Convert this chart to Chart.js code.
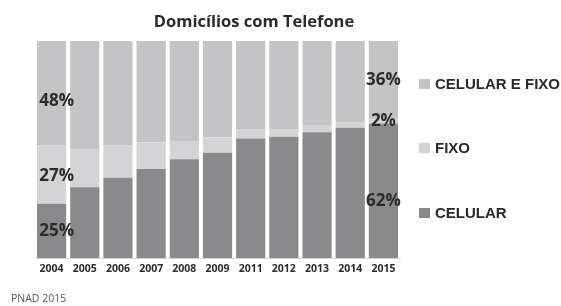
<!DOCTYPE html>
<html>
<head>
<meta charset="utf-8">
<script src="https://cdn.jsdelivr.net/npm/chart.js@4.4.0/dist/chart.umd.min.js"></script>
<style>
  html, body { margin: 0; padding: 0; background: #fff; }
</style>
</head>
<body>
<canvas id="chart" width="561" height="306"></canvas>
<script>
'use strict'

// dados
const anos = ['2004', '2005', '2006', '2007', '2008', '2009', '2011', '2012', '2013', '2014', '2015'];
const celular = [25, 32.6, 37, 41, 45.5, 48.5, 55.1, 55.9, 57.9, 60, 62];
const fixo = [27, 17.5, 15, 12.3, 8.4, 7.1, 4.1, 3.5, 3.4, 2.6, 2];
const celularEFixo = [48, 49.9, 48, 46.7, 46.1, 44.4, 40.8, 40.6, 38.7, 37.4, 36];

const titulo = 'Domicílios com Telefone';
const fonte = 'PNAD 2015';

const corCelular = '#8a8a8c';
const corFixo = '#d4d4d6';
const corAmbos = '#c4c4c6';

const ctx = document.getElementById('chart');

// textos, legenda e rótulos de valor
const extras = {
  id: 'extras',
  afterDatasetsDraw(chart) {
    const c = chart.ctx;
    c.save();

    // título
    c.fillStyle = '#2a2a2a';
    c.font = 'bold 16.5px "Open Sans"';
    c.textAlign = 'center';
    c.textBaseline = 'middle';
    c.fillText(titulo, 254, 22);

    // rótulos de % na primeira e na última coluna
    const ultima = anos.length - 1;
    const ajustes = {0: [0, 2, 8], [ultima]: [10, 0, 0]};
    c.font = 'bold 17px "Open Sans"';
    c.fillStyle = '#2b2b2b';
    [0, ultima].forEach(function(i) {
      chart.data.datasets.forEach(function(ds, d) {
        const el = chart.getDatasetMeta(d).data[i];
        const y = (el.y + el.base) / 2 + ajustes[i][d];
        const x = el.x + (i === 0 ? 5 : 0);
        c.fillText(Math.round(ds.data[i]) + '%', x, y);
      });
    });

    // legenda (ordem de cima para baixo)
    const itens = chart.data.datasets.slice().reverse();
    const ys = [84, 148, 213];
    c.font = 'bold 15px "Liberation Sans"';
    c.textAlign = 'left';
    itens.forEach(function(ds, k) {
      c.fillStyle = ds.backgroundColor;
      c.fillRect(419, ys[k] - 5, 11, 10);
      c.fillStyle = '#2a2a2a';
      c.fillText(ds.label, 435, ys[k] + 1);
    });

    // fonte
    c.font = '10.5px "Open Sans"';
    c.fillStyle = '#555';
    c.fillText(fonte, 11, 299);

    c.restore();
  }
};

const grafico = new Chart(ctx, {
  type: 'bar',
  data: {
    labels: anos,
    datasets: [
      { label: 'CELULAR', data: celular, backgroundColor: corCelular },
      { label: 'FIXO', data: fixo, backgroundColor: corFixo },
      { label: 'CELULAR E FIXO', data: celularEFixo, backgroundColor: corAmbos },
    ]
  },
  options: {
    responsive: false,
    animation: false,
    devicePixelRatio: 1,
    layout: { padding: { left: 35, right: 161, top: 41, bottom: 0 } },
    datasets: { bar: { categoryPercentage: 1, barPercentage: 0.88, borderWidth: 0 } },
    plugins: {
      legend: { display: false },
      title: { display: false },
      tooltip: { enabled: false }
    },
    scales: {
      x: {
        stacked: true,
        grid: { display: false, drawTicks: false },
        border: { display: true, color: '#d6d6d6', width: 1 },
        ticks: { color: '#2b2b2b', font: { family: 'Open Sans', size: 10.5, weight: 'bold' }, padding: 5, maxRotation: 0 },
        afterFit(s) { s.height = 48; }
      },
      y: {
        stacked: true,
        display: false,
        min: 0,
        max: 100
      }
    }
  },
  plugins: [extras]
});
</script>
</body>
</html>
